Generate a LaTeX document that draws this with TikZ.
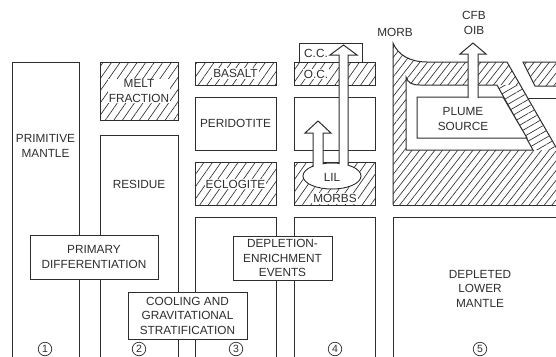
\documentclass[tikz,border=0pt]{standalone}
\usepackage{fontspec}
\setmainfont{Liberation Sans}
\usetikzlibrary{patterns.meta}
\definecolor{ink}{HTML}{2E2E2E}
\begin{document}
\begin{tikzpicture}[x=1pt,y=-1pt]
\tikzset{
  ln/.style={draw=ink, line width=1pt, line join=miter},
  hatchA/.style={pattern={Lines[angle=55,distance=7pt,line width=0.65pt]}, pattern color=ink},
  hatchB/.style={pattern={Lines[angle=52,distance=6pt,line width=0.65pt]}, pattern color=ink},
  hatchC/.style={pattern={Lines[angle=30,distance=6pt,line width=0.65pt]}, pattern color=ink},
  lbl/.style={font=\fontsize{11.8}{14.5}\selectfont, text=ink, align=center, inner sep=1pt},
  wlbl/.style={lbl, fill=white},
  boxlbl/.style={lbl, draw=ink, line width=1pt, fill=white, inner sep=0pt},
  num/.style={circle, draw=ink, line width=0.7pt, minimum size=13.5pt, inner sep=0pt, text=ink, font=\fontsize{10.5}{10.5}\selectfont},
  arrowbody/.style={ln, fill=white}
}
\useasboundingbox (0,0) rectangle (556,356);

% column 1
\draw[ln] (12,358) -- (12,62) -- (79,62) -- (79,358);
\node[lbl] (prim) at (45.5,146) {PRIMITIVE\\MANTLE};

% column 2
\draw[ln, hatchA] (100,62) rectangle (178,120);
\node[wlbl] (melt) at (139,91) {MELT\\FRACTION};
\draw[ln] (100,358) -- (100,135) -- (178,135) -- (178,358);
\node[lbl] (res) at (139,184) {RESIDUE};

% column 3
\draw[ln, hatchA] (195,62) rectangle (276,85);
\node[wlbl] (bas) at (235.5,73.5) {BASALT};
\draw[ln] (195,97) rectangle (276,150);
\node[lbl] (per) at (235.5,123.5) {PERIDOTITE};
\draw[ln, hatchA] (195,162) rectangle (276,205);
\node[wlbl] (ecl) at (235.5,184) {ECLOGITE};
\draw[ln] (195,358) -- (195,217) -- (276,217) -- (276,358);

% column 4
\draw[ln, fill=white] (299,43) rectangle (362,62);
\node[lbl] (cc) at (316,53) {C.C.};
\draw[ln, hatchA] (294,62) rectangle (375,85);
\node[wlbl] (oc) at (316,74) {O.C.};
\draw[ln] (294,97) rectangle (375,150);
\draw[ln, hatchA] (294,162) rectangle (375,205);
\node[wlbl] (morbs) at (335,198.5) {MORBS};
\draw[ln] (294,358) -- (294,217) -- (375,217) -- (375,358);

\filldraw[ln, fill=white] (332,176) ellipse [x radius=29pt, y radius=13pt];
\filldraw[arrowbody] (339,176) -- (339,55) -- (330,55) -- (343.5,45) -- (357,55) -- (348,55) -- (348,176);
\filldraw[arrowbody] (313,176) -- (313,133) -- (305,133) -- (318,121) -- (331,133) -- (323,133) -- (323,176);
\fill[white] (332,176) ellipse [x radius=28.2pt, y radius=12.2pt];
\node[lbl] (lil) at (332,177) {LIL};

% column 5 upper
\path[hatchB] (393,205) -- (393,43) .. controls (398,55) and (410,62) .. (427,62) -- (507,62) -- (557,149) -- (557,205) -- cycle;
\fill[white] (497,85) -- (520,85) -- (557,149) -- (557,150) -- (533,150) -- cycle;
\path[hatchC] (497,85) -- (520,85) -- (557,149) -- (557,150) -- (533,150) -- cycle;
\draw[ln] (393,205) -- (393,43) .. controls (398,55) and (410,62) .. (427,62) -- (507,62) -- (557,149);
\draw[ln] (393,205) -- (557,205);
\filldraw[ln, fill=white] (406,77) .. controls (408,83) and (412,85) .. (420,85) -- (497,85) -- (533,150) -- (406,150) -- cycle;
\filldraw[ln, fill=white] (417,97) -- (503,97) -- (527,138) -- (417,138) -- cycle;
\node[lbl] (plume) at (463,119) {PLUME\\SOURCE};
\draw[ln, hatchB] (523,62) -- (558,62) -- (558,86) -- (535,86) -- cycle;
\draw[ln] (528,98) -- (558,98);
\filldraw[arrowbody] (468,98) -- (468,54) -- (460,54) -- (473,43) -- (486,54) -- (478,54) -- (478,98);
\node[lbl] (morb) at (395,32) {MORB};
\node[lbl] (cfb) at (474,23) {CFB\\OIB};

% column 5 lower
\draw[ln] (393,358) -- (393,217) -- (558,217);
\node[lbl] (dlm) at (480,288.5) {DEPLETED\\LOWER\\MANTLE};

% process boxes
\node[boxlbl, minimum width=128pt, minimum height=44pt] (pd) at (94,257) {PRIMARY\\DIFFERENTIATION};
\node[boxlbl, minimum width=119pt, minimum height=47pt] (cgs) at (187.5,315.5) {COOLING AND\\GRAVITATIONAL\\STRATIFICATION};
\node[boxlbl, minimum width=99pt, minimum height=44pt] (dee) at (282.5,258) {DEPLETION-\\ENRICHMENT\\EVENTS};

% numbers
\node[num] (n1) at (45,349) {1};
\node[num] (n2) at (139,349) {2};
\node[num] (n3) at (236,349) {3};
\node[num] (n4) at (335,349) {4};
\node[num] (n5) at (480,349) {5};
\end{tikzpicture}
\end{document}
